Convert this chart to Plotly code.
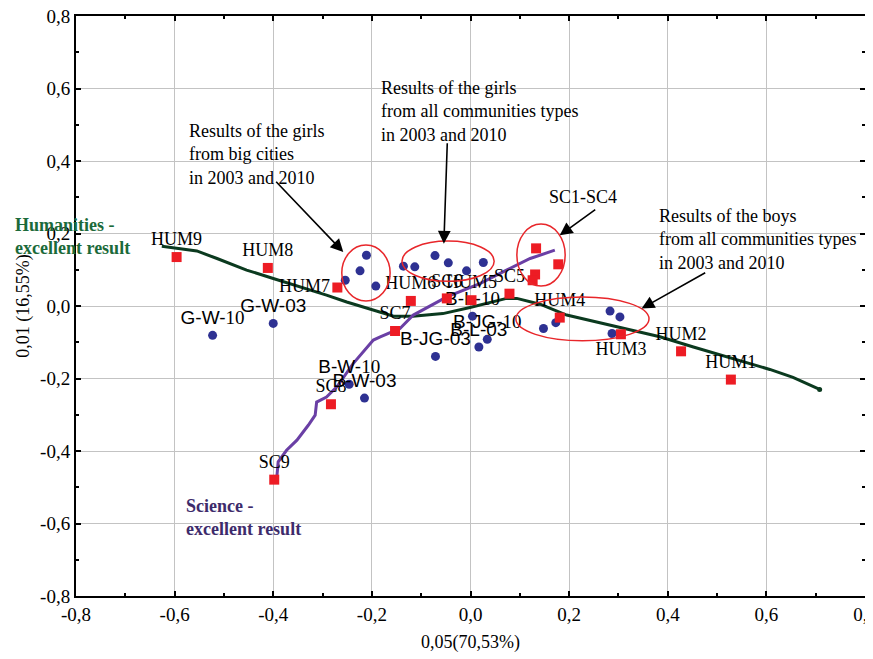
import plotly.graph_objects as go

# ---------------- data ----------------
# red squares: subjects (HUM = humanities, SC = science)
sq_names = ["HUM9", "HUM8", "HUM7", "HUM6", "SC6", "HUM5", "SC5",
            "SC1", "SC2", "SC3", "SC4", "HUM4", "HUM3", "HUM2", "HUM1",
            "SC7", "SC8", "SC9"]
sq_x = [-0.596, -0.411, -0.270, -0.121, -0.048, 0.002, 0.079,
        0.133, 0.178, 0.131, 0.126, 0.181, 0.305, 0.427, 0.528,
        -0.153, -0.283, -0.398]
sq_y = [0.135, 0.105, 0.051, 0.014, 0.021, 0.016, 0.034,
        0.159, 0.115, 0.087, 0.071, -0.032, -0.078, -0.125, -0.203,
        -0.069, -0.271, -0.479]
sq_shown = ["HUM9", "HUM8", "HUM7", "HUM6", "SC6", "HUM5", "SC5",
            "", "", "", "", "HUM4", "HUM3", "HUM2", "HUM1",
            "SC7", "SC8", "SC9"]

# blue dots: student groups
dot_names = ["", "", "", "", "", "", "", "", "", "",
             "", "", "", "", "",
             "G-W-03", "G-W-10", "B-W-10", "B-W-03", "B-JG-03",
             "B-L-10", "B-JG-10", "B-L-03"]
dot_x = [-0.211, -0.224, -0.254, -0.192, -0.136, -0.113, -0.072, -0.045, -0.008, 0.026,
         0.148, 0.173, 0.283, 0.303, 0.287,
         -0.400, -0.523, -0.246, -0.215, -0.071,
         0.004, 0.034, 0.017]
dot_y = [0.140, 0.097, 0.071, 0.055, 0.110, 0.108, 0.139, 0.119, 0.097, 0.120,
         -0.062, -0.046, -0.014, -0.030, -0.076,
         -0.048, -0.081, -0.216, -0.254, -0.139,
         -0.028, -0.092, -0.113]

# humanities - excellent result (green curve)
hum_x = [-0.626, -0.555, -0.514, -0.454, -0.400, -0.332, -0.292, -0.251, -0.197,
         -0.156, -0.117, -0.056, -0.001, 0.040, 0.073, 0.094, 0.141, 0.195,
         0.249, 0.317, 0.384, 0.452, 0.519, 0.587, 0.607, 0.654, 0.708]
hum_y = [0.165, 0.152, 0.131, 0.099, 0.076, 0.048, 0.030, 0.011, -0.012,
         -0.028, -0.028, -0.021, -0.004, 0.011, 0.021, 0.021, 0.005, -0.025,
         -0.042, -0.062, -0.085, -0.113, -0.140, -0.166, -0.175, -0.197, -0.230]

# science - excellent result (purple curve)
sci_x = [-0.393, -0.390, -0.373, -0.352, -0.329, -0.315, -0.312, -0.292, -0.271,
         -0.238, -0.197, -0.183, -0.143, -0.116, -0.048, 0.019, 0.073, 0.121, 0.171]
sci_y = [-0.476, -0.430, -0.398, -0.370, -0.329, -0.301, -0.265, -0.251, -0.223,
         -0.159, -0.094, -0.085, -0.062, -0.025, 0.025, 0.062, 0.099, 0.131, 0.154]

tick_vals = [-0.8, -0.6, -0.4, -0.2, 0.0, 0.2, 0.4, 0.6, 0.8]
tick_text = ["-0,8", "-0,6", "-0,4", "-0,2", "0,0", "0,2", "0,4", "0,6", "0,8"]

x_title = "0,05(70,53%)"
y_title = "0,01 (16,55%)"

# ---------------- styling ----------------
SERIF = "Liberation Serif, Times New Roman, serif"
SANS = "Liberation Sans, Arial, sans-serif"
RED = "#ed1c24"
BLUE = "#2e3192"
GREEN = "#0b3a1f"
PURPLE = "#6a3fa5"

sq_pos = ["top center"] * len(sq_names)
sq_pos[sq_names.index("HUM7")] = "middle left"
sq_pos[sq_names.index("HUM3")] = "bottom center"


def fmt_dot(label):
    if label.endswith("-10"):
        return label[:-2] + '<span style="font-family:Liberation Serif">10</span>'
    return label


fig = go.Figure()

fig.add_trace(go.Scatter(x=hum_x, y=hum_y, mode="lines",
                         line=dict(color=GREEN, width=3), hoverinfo="skip"))
fig.add_trace(go.Scatter(x=[hum_x[-1]], y=[hum_y[-1]], mode="markers",
                         marker=dict(color=GREEN, size=5), hoverinfo="skip"))
fig.add_trace(go.Scatter(x=sci_x, y=sci_y, mode="lines",
                         line=dict(color=PURPLE, width=3), hoverinfo="skip"))

fig.add_trace(go.Scatter(x=dot_x, y=dot_y, mode="markers+text",
                         text=[fmt_dot(t) for t in dot_names],
                         textposition="top center",
                         textfont=dict(family=SANS, size=19, color="black"),
                         marker=dict(color=BLUE, size=9, symbol="circle")))

fig.add_trace(go.Scatter(x=sq_x, y=sq_y, mode="markers+text",
                         text=sq_shown, textposition=sq_pos,
                         textfont=dict(family=SERIF, size=18, color="black"),
                         marker=dict(color=RED, size=10, symbol="square")))

# ellipses around groups
ellipses = [(-0.261, -0.163, 0.014, 0.168),
            (-0.139, 0.048, 0.068, 0.179),
            (0.094, 0.192, 0.055, 0.226),
            (0.092, 0.362, -0.096, 0.025)]
for x0, x1, y0, y1 in ellipses:
    fig.add_shape(type="circle", xref="x", yref="y", x0=x0, x1=x1, y0=y0, y1=y1,
                  line=dict(color="#e8262a", width=1.5))

# arrows (tail -> head)
arrows = [((-0.397, 0.347), (-0.258, 0.149)),
          ((-0.047, 0.453), (-0.054, 0.172)),
          ((0.256, 0.269), (0.181, 0.195)),
          ((0.479, 0.094), (0.347, -0.007))]
for (tx, ty), (hx, hy) in arrows:
    fig.add_annotation(x=hx, y=hy, ax=tx, ay=ty, xref="x", yref="y",
                       axref="x", ayref="y", text="", showarrow=True,
                       arrowhead=2, arrowsize=1.6, arrowwidth=1.6, arrowcolor="black")

notes = [(-0.575, 0.515, "Results of the girls<br>from big cities<br>in 2003 and 2010"),
         (-0.185, 0.634, "Results of the girls<br>from all communities types<br>in 2003 and 2010"),
         (0.379, 0.281, "Results of the boys<br>from all communities types<br>in 2003 and 2010")]
for nx, ny, txt in notes:
    fig.add_annotation(x=nx, y=ny, xref="x", yref="y", text=txt, showarrow=False,
                       xanchor="left", yanchor="top", align="left",
                       font=dict(family=SERIF, size=18, color="black"))

fig.add_annotation(x=0.228, y=0.301, xref="x", yref="y", text="SC1-SC4",
                   showarrow=False, font=dict(family=SERIF, size=18, color="black"))

fig.add_annotation(x=-0.080, y=0.620, xref="paper", yref="paper",
                   text="<b>Humanities -<br>excellent result</b>", showarrow=False,
                   xanchor="left", yanchor="middle", align="left",
                   font=dict(family=SERIF, size=18, color="#1b6a3a"))
fig.add_annotation(x=0.1366, y=0.135, xref="paper", yref="paper",
                   text="<b>Science -<br>excellent result</b>", showarrow=False,
                   xanchor="left", yanchor="middle", align="left",
                   font=dict(family=SERIF, size=18, color="#3d2b6b"))

axis_common = dict(range=[-0.8, 0.8], tickvals=tick_vals, ticktext=tick_text,
                   showgrid=True, gridcolor="#c3c3c3", gridwidth=1,
                   showline=True, linecolor="black", linewidth=2, mirror="ticks",
                   ticks="inside", ticklen=5, tickwidth=1.5, tickcolor="black",
                   minor=dict(ticks="inside", ticklen=3, tickwidth=1.5,
                              tickcolor="black", dtick=0.1, showgrid=False),
                   zeroline=False, automargin=False, ticklabeloverflow="allow",
                   tickfont=dict(family=SERIF, size=19, color="black"))

# the page body adds an 8 px offset, so the figure is 8 px smaller each way
fig.update_layout(
    width=865, height=651,
    margin=dict(l=68, r=8, t=8, b=63),
    paper_bgcolor="white", plot_bgcolor="white",
    showlegend=False,
    xaxis=dict(axis_common, title=dict(text=x_title, standoff=12,
                                       font=dict(family=SERIF, size=18, color="black"))),
    yaxis=dict(axis_common, title=dict(text=y_title, standoff=6,
                                       font=dict(family=SERIF, size=18, color="black"))),
)

fig.write_html("out.html")
